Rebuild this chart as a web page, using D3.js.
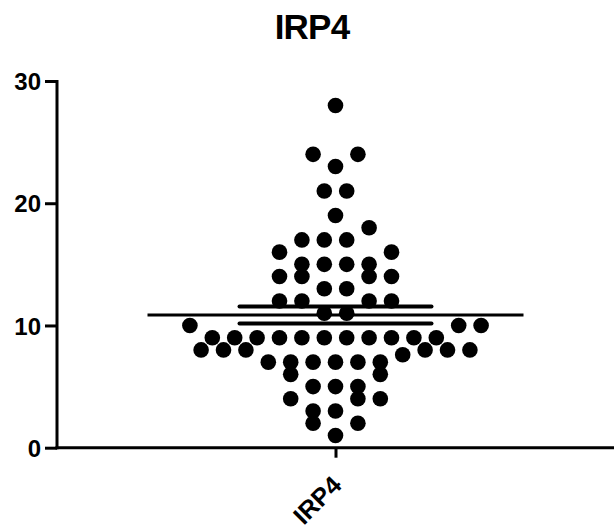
<!DOCTYPE html>
<html><head><meta charset="utf-8">
<script src="https://cdn.jsdelivr.net/npm/d3@7"></script>
<style>body{margin:0;background:#fff}svg{display:block}text{font-family:"Liberation Sans",Arial,Helvetica,sans-serif;font-weight:bold}</style>
</head><body>
<script>
const categories = ["IRP4"];
const title = "IRP4";
const yTicks = [0, 10, 20, 30];
const irp4Values = [
  28, 24, 24, 23, 21, 21, 19, 18, 17, 17, 17, 16, 16,
  15, 15, 15, 15, 14, 14, 14, 14, 13, 13, 12, 12, 12, 12, 11, 11,
  10, 10, 10, 9, 9, 9, 9, 9, 9, 9, 9, 9, 9, 9,
  8, 8, 8, 8, 8, 8, 7.6, 7, 7, 7, 7, 7, 7,
  6, 6, 5, 5, 5, 4, 4, 4, 3, 3, 2, 2, 1
];

const W = 614, H = 532;
const svg = d3.select("body").append("svg").attr("width", W).attr("height", H);

const y = d3.scaleLinear().domain([0, 30]).range([447.7, 81]);
const x = d3.scalePoint().domain(categories).range([57, 614]).padding(0.5);

// title
svg.append("text").attr("x", 312).attr("y", 38.5).attr("text-anchor", "middle")
  .attr("font-size", 35).attr("letter-spacing", -0.8).text(title);

// beeswarm layout: bins of width 2, sorted ascending, filled center-outward
const colW = 22.4, r = 7.8;
const bins = d3.groups(irp4Values, v => Math.floor((v - 1) / 2));
const pts = [];
bins.forEach(([k, vals]) => {
  const s = vals.slice().sort((a, b) => a - b);
  const n = s.length;
  s.forEach((v, i) => {
    let off;
    if (n % 2 === 1) {
      off = i === 0 ? 0 : (i % 2 === 1 ? -Math.ceil(i / 2) : Math.ceil(i / 2));
    } else {
      const m = Math.floor(i / 2) + 0.5;
      off = i % 2 === 0 ? -m : m;
    }
    pts.push({v, off});
  });
});

svg.append("g").selectAll("circle").data(pts).join("circle")
  .attr("cx", d => x("IRP4") + d.off * colW)
  .attr("cy", d => y(d.v))
  .attr("r", r).attr("fill", "#000");

// mean and SEM
const mean = d3.mean(irp4Values);
const sem = d3.deviation(irp4Values) / Math.sqrt(irp4Values.length);
const cx = x("IRP4");
svg.append("line").attr("x1", cx - 188).attr("x2", cx + 188)
  .attr("y1", y(mean)).attr("y2", y(mean)).attr("stroke", "#000").attr("stroke-width", 3);
[mean + sem, mean - sem].forEach(v => {
  svg.append("line").attr("x1", cx - 96).attr("x2", cx + 96)
    .attr("y1", y(v)).attr("y2", y(v)).attr("stroke", "#000").attr("stroke-width", 4)
    .attr("stroke-linecap", "round");
});

// y axis
const yAxis = svg.append("g").attr("transform", "translate(57,0)")
  .call(d3.axisLeft(y).tickValues(yTicks).tickSize(12).tickPadding(4).tickFormat(d3.format("d")));
yAxis.select(".domain").attr("stroke-width", 3).attr("d", `M0,${y(30)-1}V${y(0)+1.5}`);
yAxis.selectAll(".tick line").attr("stroke-width", 3);
yAxis.selectAll(".tick text").attr("font-size", 24).attr("font-family", null).attr("fill", "#000")
  .attr("dy", "0.36em");

// x axis
const xAxis = svg.append("g").attr("transform", `translate(0,${y(0)})`)
  .call(d3.axisBottom(x).tickSize(10).tickPadding(4));
xAxis.select(".domain").attr("stroke-width", 3).attr("d", "M55.5,0H614");
xAxis.selectAll(".tick line").attr("stroke-width", 3);
xAxis.selectAll(".tick text").attr("font-size", 25).attr("font-family", null).attr("fill", "#000")
  .attr("text-anchor", "end").attr("dy", null).attr("y", null)
  .attr("transform", "translate(7,39) rotate(-45)");
svg.selectAll(".domain").attr("stroke", "#000");
svg.selectAll(".tick line").attr("stroke", "#000");
</script>
</body></html>
